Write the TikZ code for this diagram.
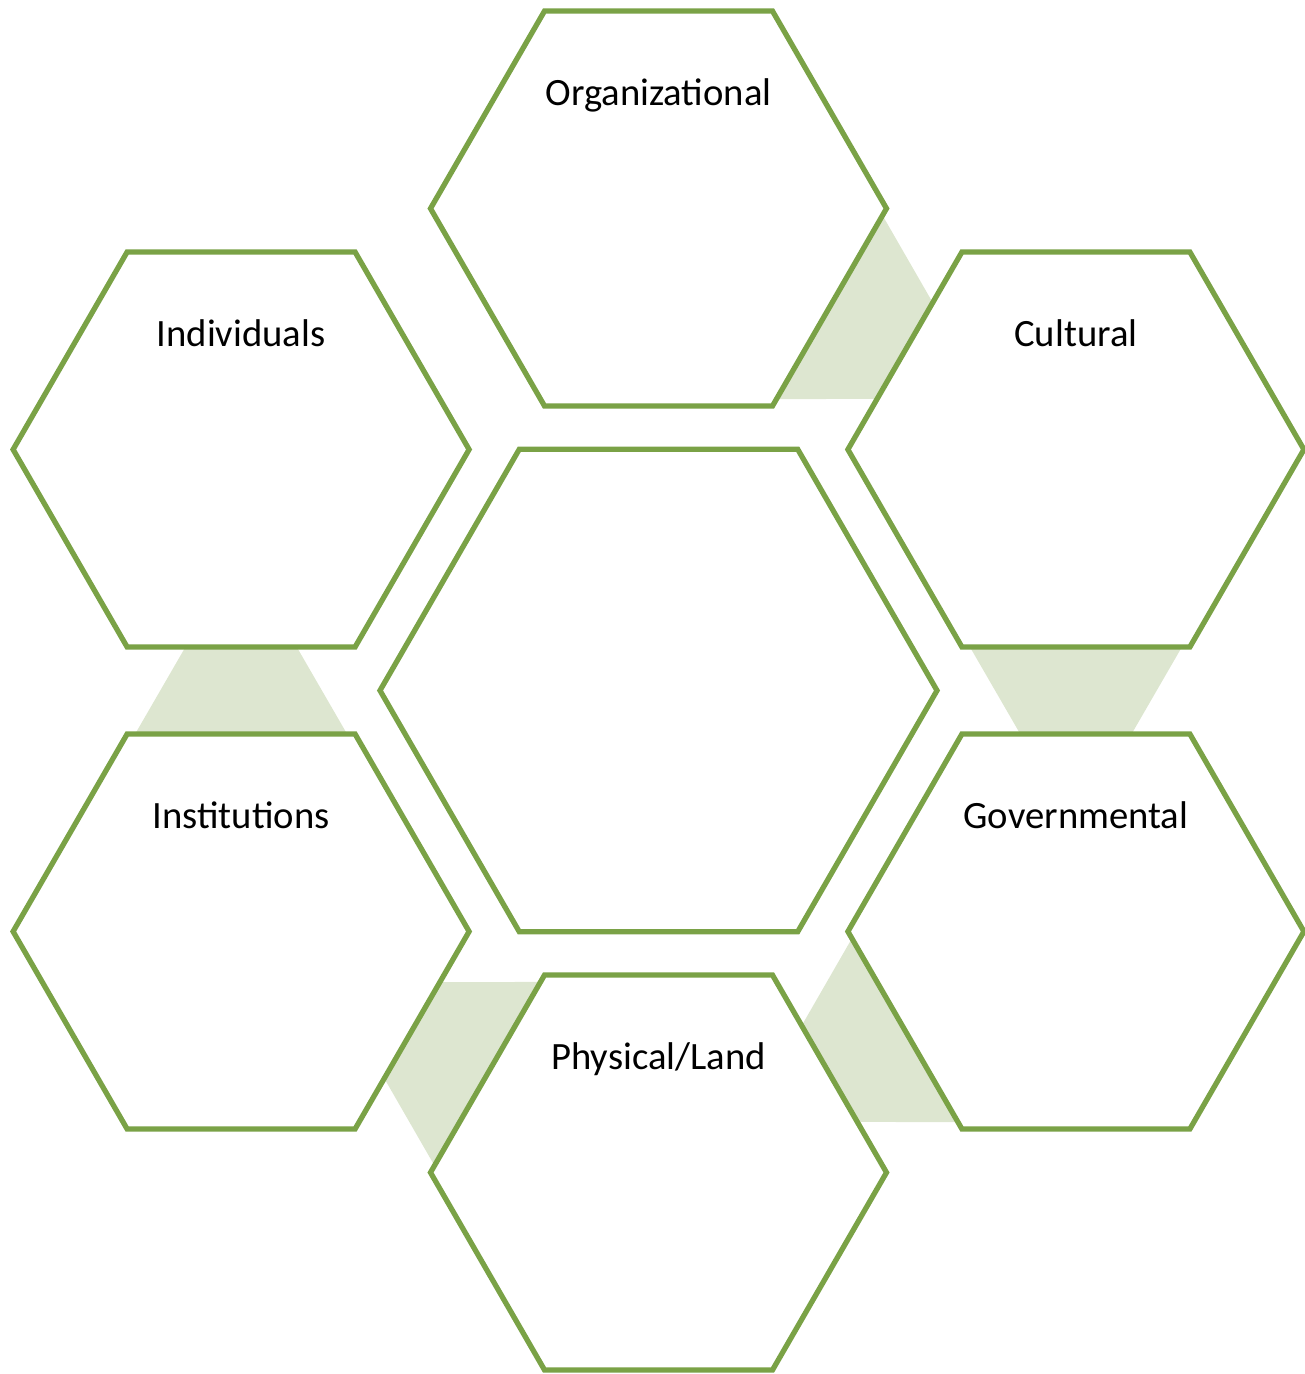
\documentclass[tikz,border=0pt]{standalone}
\usepackage{fontspec}
\setmainfont{Carlito}
\usetikzlibrary{shapes.geometric, calc, backgrounds}
\definecolor{cellgreen}{RGB}{122, 162, 70}
\definecolor{bandgreen}{RGB}{221, 230, 208}

\begin{document}
\begin{tikzpicture}[
    hexcell/.style={regular polygon, regular polygon sides=6, draw=cellgreen, line width=1.5pt,
        fill=white, inner sep=0pt, outer sep=0pt, minimum size=4.56cm},
    celltext/.style={anchor=base, font=\fontsize{11}{13}\selectfont},
    band/.style={fill=bandgreen}
]
    \useasboundingbox (0,0) rectangle (13.04,-13.74);

    % Centre cell
    \node[hexcell, minimum size=5.57cm] (core) at (6.585,-6.905) {};

    % Outer ring
    \node[hexcell] (org) at (6.585,-2.085) {};
    \node[hexcell] (cult) at (10.759,-4.495) {};
    \node[hexcell] (gov) at (10.759,-9.315) {};
    \node[hexcell] (phys) at (6.585,-11.725) {};
    \node[hexcell] (inst) at (2.411,-9.315) {};
    \node[hexcell] (indiv) at (2.411,-4.495) {};

    % Labels
    \node[celltext] (orgText) at ($(org.north)+(0,-0.94)$) {Organizational};
    \node[celltext] (cultText) at ($(cult.north)+(0,-0.94)$) {Cultural};
    \node[celltext] (govText) at ($(gov.north)+(0,-0.94)$) {Governmental};
    \node[celltext] (physText) at ($(phys.north)+(0,-0.94)$) {Physical/Land};
    \node[celltext] (instText) at ($(inst.north)+(0,-0.94)$) {Institutions};
    \node[celltext] (indivText) at ($(indiv.north)+(0,-0.94)$) {Individuals};

    % Bands between neighbouring cells (wide end at the first cell)
    \begin{scope}[on background layer]
        \fill[band] ($(org.0)!0.035!(org.300)$) -- ($(org.0)!0.965!(org.300)$)
            -- ($(cult.120)!0.744!(cult.180)$) -- ($(cult.120)!0.256!(cult.180)$) -- cycle;
        \fill[band] ($(cult.240)!0.035!(cult.300)$) -- ($(cult.240)!0.965!(cult.300)$)
            -- ($(gov.120)!0.744!(gov.60)$) -- ($(gov.120)!0.256!(gov.60)$) -- cycle;
        \fill[band] ($(gov.180)!0.035!(gov.240)$) -- ($(gov.180)!0.965!(gov.240)$)
            -- ($(phys.60)!0.744!(phys.0)$) -- ($(phys.60)!0.256!(phys.0)$) -- cycle;
        \fill[band] ($(phys.120)!0.035!(phys.180)$) -- ($(phys.120)!0.965!(phys.180)$)
            -- ($(inst.0)!0.744!(inst.300)$) -- ($(inst.0)!0.256!(inst.300)$) -- cycle;
        \fill[band] ($(inst.120)!0.035!(inst.60)$) -- ($(inst.120)!0.965!(inst.60)$)
            -- ($(indiv.240)!0.744!(indiv.300)$) -- ($(indiv.240)!0.256!(indiv.300)$) -- cycle;
    \end{scope}

\end{tikzpicture}
\end{document}
